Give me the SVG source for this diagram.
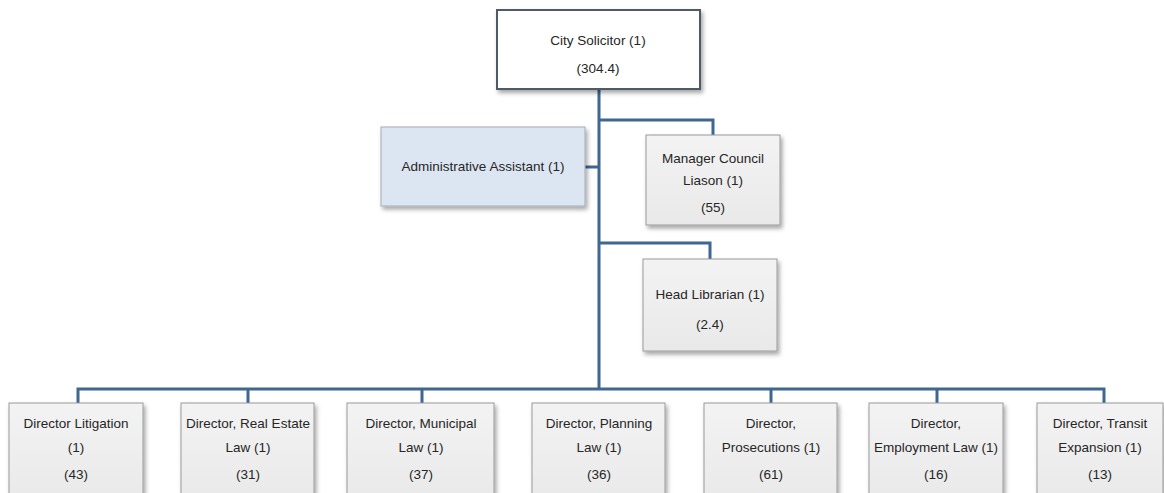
<svg xmlns="http://www.w3.org/2000/svg" width="1164" height="493" viewBox="0 0 1164 493">
<defs>
<filter id="sh" x="-10%" y="-10%" width="130%" height="130%">
<feDropShadow dx="2" dy="3" stdDeviation="2" flood-color="#000" flood-opacity="0.35"/>
</filter>
<linearGradient id="gg" x1="0" y1="0" x2="0" y2="1">
<stop offset="0" stop-color="#f3f3f3"/>
<stop offset="1" stop-color="#e9e9e9"/>
</linearGradient>
</defs>
<style>
.box{fill:url(#gg);stroke:#9a9a9a;stroke-width:1;filter:url(#sh)}
.top{fill:#ffffff;stroke:#4e5a68;stroke-width:2;filter:url(#sh)}
.adm{fill:#dce6f2;stroke:#a3abb5;stroke-width:1;filter:url(#sh)}
.t{font-family:"Liberation Sans",Arial,sans-serif;font-size:13.5px;fill:#262626;text-anchor:middle}
.c{fill:none;stroke:#3f6790;stroke-width:3}
</style>
<rect width="1164" height="493" fill="#ffffff"/>
<g id="connectors">
<path class="c" d="M599 89 V389"/>
<path class="c" d="M599 120 H713 V135"/>
<path class="c" d="M585 167 H599"/>
<path class="c" d="M599 243 H710 V259"/>
<path class="c" d="M78 403 V389 H1104 V403"/>
<path class="c" d="M248 389 V403"/>
<path class="c" d="M422 389 V403"/>
<path class="c" d="M771 389 V403"/>
<path class="c" d="M937 389 V403"/>
</g>
<g id="city-solicitor">
<rect class="top" x="497" y="10" width="203" height="79"/>
<text class="t" x="598" y="45">City Solicitor (1)</text>
<text class="t" x="598" y="73">(304.4)</text>
</g>
<g id="admin-assistant">
<rect class="adm" x="381" y="127" width="204" height="79"/>
<text class="t" x="483" y="171">Administrative Assistant (1)</text>
</g>
<g id="manager-council">
<rect class="box" x="646" y="135" width="134" height="90"/>
<text class="t" x="713" y="163">Manager Council</text>
<text class="t" x="713" y="185">Liason (1)</text>
<text class="t" x="713" y="212">(55)</text>
</g>
<g id="head-librarian">
<rect class="box" x="643" y="259" width="134" height="92"/>
<text class="t" x="710" y="299">Head Librarian (1)</text>
<text class="t" x="710" y="329">(2.4)</text>
</g>
<g id="dir-litigation">
<rect class="box" x="9" y="403" width="134" height="100"/>
<text class="t" x="76" y="428">Director Litigation</text>
<text class="t" x="76" y="452">(1)</text>
<text class="t" x="76" y="479">(43)</text>
</g>
<g id="dir-real-estate">
<rect class="box" x="181" y="403" width="133" height="100"/>
<text class="t" x="248" y="428">Director, Real Estate</text>
<text class="t" x="248" y="452">Law (1)</text>
<text class="t" x="248" y="479">(31)</text>
</g>
<g id="dir-municipal">
<rect class="box" x="347" y="403" width="147" height="100"/>
<text class="t" x="421" y="428">Director, Municipal</text>
<text class="t" x="421" y="452">Law (1)</text>
<text class="t" x="421" y="479">(37)</text>
</g>
<g id="dir-planning">
<rect class="box" x="532" y="403" width="133" height="100"/>
<text class="t" x="599" y="428">Director, Planning</text>
<text class="t" x="599" y="452">Law (1)</text>
<text class="t" x="599" y="479">(36)</text>
</g>
<g id="dir-prosecutions">
<rect class="box" x="704" y="403" width="133" height="100"/>
<text class="t" x="771" y="428">Director,</text>
<text class="t" x="771" y="452">Prosecutions (1)</text>
<text class="t" x="771" y="479">(61)</text>
</g>
<g id="dir-employment">
<rect class="box" x="869" y="403" width="134" height="100"/>
<text class="t" x="936" y="428">Director,</text>
<text class="t" x="936" y="452">Employment Law (1)</text>
<text class="t" x="936" y="479">(16)</text>
</g>
<g id="dir-transit">
<rect class="box" x="1037" y="403" width="126" height="100"/>
<text class="t" x="1100" y="428">Director, Transit</text>
<text class="t" x="1100" y="452">Expansion (1)</text>
<text class="t" x="1100" y="479">(13)</text>
</g>
</svg>
